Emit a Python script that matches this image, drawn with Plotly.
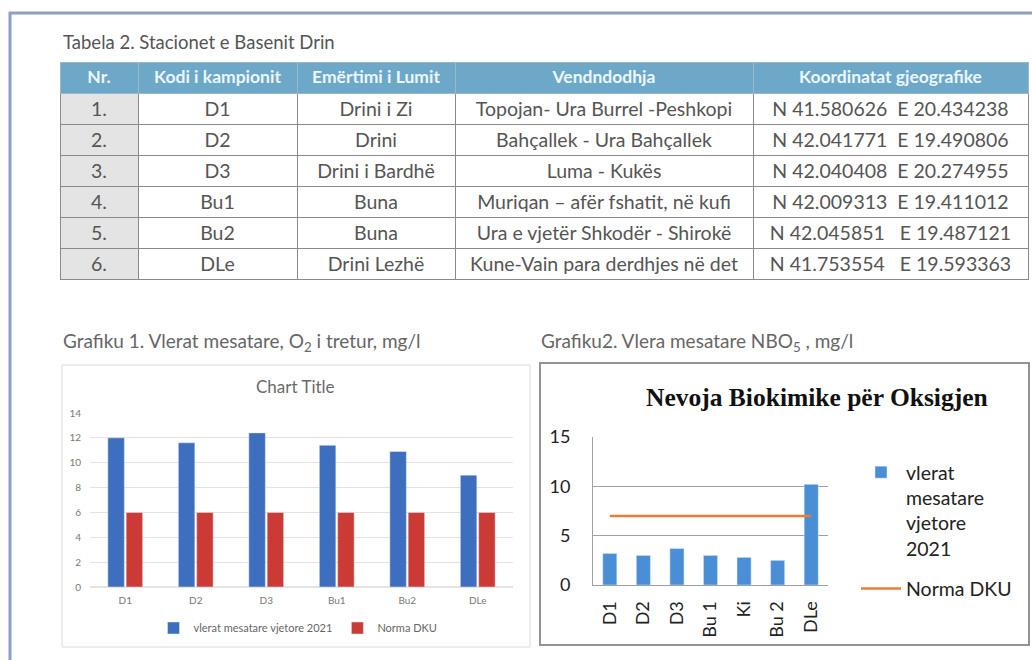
import plotly.graph_objects as go

W, H = 1032, 660

# ---- Table data ----
tbl_headers = ["Nr.", "Kodi i kampionit", "Emërtimi i Lumit", "Vendndodhja", "Koordinatat gjeografike"]
tbl_nr = ["1.", "2.", "3.", "4.", "5.", "6."]
tbl_kodi = ["D1", "D2", "D3", "Bu1", "Bu2", "DLe"]
tbl_lumi = ["Drini i Zi", "Drini", "Drini i Bardhë", "Buna", "Buna", "Drini Lezhë"]
tbl_vend = ["Topojan- Ura Burrel -Peshkopi", "Bahçallek - Ura Bahçallek", "Luma - Kukës",
            "Muriqan – afër fshatit, në kufi", "Ura e vjetër Shkodër - Shirokë",
            "Kune-Vain para derdhjes në det"]
tbl_koord = ["N 41.580626  E 20.434238", "N 42.041771  E 19.490806", "N 42.040408  E 20.274955",
             "N 42.009313  E 19.411012", "N 42.045851   E 19.487121", "N 41.753554   E 19.593363"]

# ---- Chart 1 data ----
c1_cats = ["D1", "D2", "D3", "Bu1", "Bu2", "DLe"]
c1_mesatare = [12.0, 11.6, 12.4, 11.4, 10.9, 9.0]
c1_norma = [6, 6, 6, 6, 6, 6]

# ---- Chart 2 data ----
c2_cats = ["D1", "D2", "D3", "Bu 1", "Ki", "Bu 2", "DLe"]
c2_mesatare = [3.2, 3.0, 3.7, 3.0, 2.8, 2.5, 10.2]
c2_norma = [7, 7, 7, 7, 7, 7, 7]


def px(x):
    return x / W


def py(y):
    return 1 - y / H


n = len(tbl_nr)

fig = go.Figure()

fig.add_trace(go.Table(
    domain=dict(x=[px(60), px(1028)], y=[py(284), py(62)]),
    columnwidth=[78, 159, 158, 298, 275],
    header=dict(
        values=tbl_headers,
        fill_color="#6ea8c8",
        font=dict(family="Lato", size=17.5, color="#eaf7fb", weight="bold"),
        line=dict(color="#9ab8c8", width=1),
        align="center",
        height=31,
    ),
    cells=dict(
        values=[tbl_nr, tbl_kodi, tbl_lumi, tbl_vend, tbl_koord],
        fill_color=[["#e4e4e4"] * n] + [["white"] * n for _ in range(4)],
        font=dict(family="Lato", size=19.5, color="#555555"),
        line=dict(color="#8a8a8a", width=1),
        align="center",
        height=31,
    ),
))

# Chart 1
fig.add_trace(go.Bar(x=c1_cats, y=c1_mesatare, name="vlerat mesatare vjetore 2021",
                     marker_color="#3d6fbe", xaxis="x", yaxis="y", legend="legend"))
fig.add_trace(go.Bar(x=c1_cats, y=c1_norma, name="Norma DKU",
                     marker_color="#cc3a36", xaxis="x", yaxis="y", legend="legend"))

# Chart 2
fig.add_trace(go.Bar(x=c2_cats, y=c2_mesatare, name="vlerat<br>mesatare<br>vjetore<br>2021",
                     marker_color="#4a8fd6", width=0.42, xaxis="x2", yaxis="y2",
                     legend="legend2", legendgroup="g1"))
fig.add_trace(go.Scatter(x=c2_cats, y=c2_norma, name="Norma DKU", mode="lines",
                         line=dict(color="#ed7d31", width=2.5), xaxis="x2", yaxis="y2",
                         legend="legend2", legendgroup="g2"))

shapes = [
    # page frame
    dict(type="line", xref="paper", yref="paper", x0=px(10), x1=px(10), y0=py(12), y1=0,
         line=dict(color="#8d9fc4", width=3)),
    dict(type="line", xref="paper", yref="paper", x0=px(9), x1=1, y0=py(13), y1=py(13),
         line=dict(color="#8d9fc4", width=3)),
    # chart boxes
    dict(type="rect", xref="paper", yref="paper", x0=px(62), x1=px(530), y0=py(647), y1=py(365),
         line=dict(color="#dadada", width=1), layer="below"),
    dict(type="rect", xref="paper", yref="paper", x0=px(540), x1=px(1029), y0=py(645), y1=py(363),
         line=dict(color="#939393", width=2), layer="below"),
]

annotations = [
    dict(text="Tabela 2. Stacionet e Basenit Drin", x=px(61), y=py(42), xanchor="left",
         yanchor="middle", showarrow=False, font=dict(family="Lato", size=18.5, color="#555555")),
    dict(text="Grafiku 1. Vlerat mesatare, O<sub>2</sub> i tretur, mg/l", x=px(61), y=py(342),
         xanchor="left", yanchor="middle", showarrow=False,
         font=dict(family="Lato", size=19, color="#666666")),
    dict(text="Grafiku2. Vlera mesatare NBO<sub>5</sub> , mg/l", x=px(539), y=py(342),
         xanchor="left", yanchor="middle", showarrow=False,
         font=dict(family="Lato", size=19, color="#666666")),
    dict(text="Chart Title", x=px(295), y=py(387), xanchor="center", yanchor="middle",
         showarrow=False, font=dict(family="Lato", size=17, color="#6a6a6a")),
    dict(text="<b>Nevoja Biokimike për Oksigjen</b>", x=px(817), y=py(397), xanchor="center",
         yanchor="middle", showarrow=False,
         font=dict(family="Liberation Serif", size=25.5, color="#111111")),
]
for a in annotations:
    a["xref"] = "paper"
    a["yref"] = "paper"

fig.update_layout(
    width=W, height=H,
    margin=dict(l=0, r=0, t=0, b=0, pad=0, autoexpand=False),
    paper_bgcolor="white", plot_bgcolor="white",
    barmode="group", bargap=0.48, bargroupgap=0.1,
    shapes=shapes, annotations=annotations,
    xaxis=dict(domain=[px(90), px(513)], anchor="y", showgrid=False, showline=False,
               ticks="", automargin=False, ticklabelstandoff=6,
               tickfont=dict(family="Lato", size=10, color="#777777")),
    yaxis=dict(domain=[py(587), py(413)], anchor="x", range=[0, 14], dtick=2,
               showgrid=True, gridcolor="#e3e3e3", gridwidth=1, zeroline=True,
               zerolinecolor="#e3e3e3", showline=False, ticks="", automargin=False,
               ticklabelstandoff=8,
               tickfont=dict(family="Lato", size=10, color="#777777")),
    xaxis2=dict(domain=[px(593), px(828)], anchor="y2", showgrid=False, showline=True,
                linecolor="#a0a0a0", linewidth=1, ticks="", tickangle=-90, automargin=False,
                ticklabelstandoff=8,
                tickfont=dict(family="Lato", size=18, color="#222222")),
    yaxis2=dict(domain=[py(585), py(437)], anchor="x2", range=[0, 15], dtick=5,
                showgrid=True, gridcolor="#a0a0a0", gridwidth=1, zeroline=False,
                showline=True, linecolor="#a0a0a0", linewidth=1, ticks="", automargin=False,
                ticklabelstandoff=18,
                tickfont=dict(family="Lato", size=18, color="#222222")),
    legend=dict(orientation="h", x=px(298), y=py(628), xanchor="center", yanchor="middle",
                font=dict(family="Lato", size=11, color="#666666"), bgcolor="rgba(0,0,0,0)"),
    legend2=dict(x=px(856), y=py(453), xanchor="left", yanchor="top", valign="top",
                 traceorder="grouped", tracegroupgap=12, itemwidth=40,
                 font=dict(family="Lato", size=19.5, color="#222222"), bgcolor="rgba(0,0,0,0)"),
    showlegend=True,
)

fig.write_html("out.html", config={"displayModeBar": False},
               post_script="document.body.style.margin='0';")
